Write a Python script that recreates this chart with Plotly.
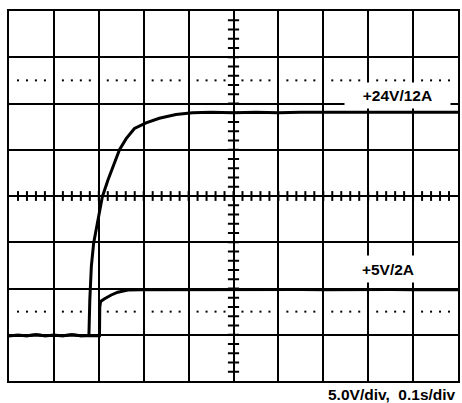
import numpy as np
import plotly.graph_objects as go

# Scope capture: 10 x 8 divisions, 0.1 s/div horizontally, 5 V/div vertically.
# Trace ground sits 3 divisions below screen centre.
time_24v = [0.000, 0.020, 0.040, 0.060, 0.080, 0.100, 0.120, 0.140, 0.160, 0.178,
            0.1800, 0.1812, 0.1834, 0.1885, 0.1973, 0.2078, 0.2202, 0.2313, 0.2461,
            0.2610, 0.2794, 0.3053, 0.3348, 0.3718, 0.4086, 0.450, 0.500, 0.550,
            0.600, 0.650, 0.700, 0.750, 0.800, 0.850, 0.900, 0.950, 1.000]
volts_24v = [-0.10, -0.05, -0.10, 0.00, -0.10, -0.05, -0.10, 0.00, -0.10, -0.05,
             3.8, 4.8, 7.4, 9.9, 12.3, 14.9, 16.7, 18.2, 20.0,
             21.2, 22.3, 22.9, 23.4, 23.8, 24.0, 24.05, 24.0, 24.05,
             24.0, 24.05, 24.05, 24.0, 24.05, 24.05, 24.0, 24.05, 24.05]

time_5v = [0.000, 0.020, 0.040, 0.060, 0.080, 0.100, 0.120, 0.140, 0.160, 0.180,
           0.2015, 0.2022, 0.2040, 0.2129, 0.2277, 0.2424, 0.2646, 0.2942, 0.350,
           0.400, 0.450, 0.500, 0.550, 0.600, 0.650, 0.700, 0.750, 0.800, 0.850,
           0.900, 0.950, 1.000]
volts_5v = [-0.10, -0.05, -0.10, 0.00, -0.10, -0.05, -0.10, 0.00, -0.10, -0.10,
            -0.10, 3.0, 3.6, 3.9, 4.3, 4.6, 4.84, 4.87, 4.88,
            4.86, 4.88, 4.86, 4.88, 4.86, 4.88, 4.86, 4.88, 4.86, 4.88,
            4.86, 4.88, 4.86]

label_24v = "+24V/12A"
label_5v = "+5V/2A"
scale_text = "5.0V/div,  0.1s/div"

T_DIV = 0.1
V_DIV = 5.0
X_RANGE = [0.0, 1.0]
Y_RANGE = [-5.0, 35.0]
X_MID = 0.5
Y_MID = 15.0

fig = go.Figure()

# Dotted reference rows at +/-2.5 div, one dot every 0.2 div
sub_t = np.arange(1, 50) * T_DIV / 5
sub_t = sub_t[np.arange(1, 50) % 5 != 0]
for level in (Y_MID - 2.5 * V_DIV, Y_MID + 2.5 * V_DIV):
    fig.add_trace(go.Scatter(
        x=sub_t, y=np.full(sub_t.size, level), mode="markers",
        marker=dict(symbol="square", size=2, color="black", line=dict(width=0)),
        hoverinfo="skip", showlegend=False))

# Minor tick marks along the centre cross-hair
cross_t = np.arange(1, 50) * T_DIV / 5
fig.add_trace(go.Scatter(
    x=cross_t, y=np.full(cross_t.size, Y_MID), mode="markers",
    marker=dict(symbol="line-ns", size=7, line=dict(width=2, color="black")),
    hoverinfo="skip", showlegend=False))
cross_v = Y_RANGE[0] + np.arange(1, 40) * V_DIV / 5
fig.add_trace(go.Scatter(
    x=np.full(cross_v.size, X_MID), y=cross_v, mode="markers",
    marker=dict(symbol="line-ew", size=8, line=dict(width=2, color="black")),
    hoverinfo="skip", showlegend=False))

# Measured channels
fig.add_trace(go.Scatter(x=time_5v, y=volts_5v, mode="lines",
                         line=dict(color="black", width=3), showlegend=False))
fig.add_trace(go.Scatter(x=time_24v, y=volts_24v, mode="lines",
                         line=dict(color="black", width=3), showlegend=False))

label_font = dict(family="Liberation Sans, Arial, sans-serif", size=15.5,
                  color="black", weight="bold")
fig.add_annotation(x=0.866, y=25.86, xref="x", yref="y", text=label_24v,
                   showarrow=False, font=label_font, bgcolor="white",
                   width=105, height=25, borderpad=0, align="center",
                   valign="middle")
fig.add_annotation(x=0.845, y=7.11, xref="x", yref="y", text=label_5v,
                   showarrow=False, font=label_font, bgcolor="white",
                   width=90, height=26, borderpad=0, align="center",
                   valign="middle")
fig.add_annotation(x=0.997, y=-0.037, xref="paper", yref="paper",
                   xanchor="right", yanchor="middle", text=scale_text,
                   showarrow=False, font=label_font, borderpad=0)

axis_common = dict(showgrid=True, gridcolor="black", gridwidth=2,
                   showline=True, linecolor="black", linewidth=2, mirror=True,
                   zeroline=False, showticklabels=False, ticks="",
                   fixedrange=True)
fig.update_xaxes(range=X_RANGE, dtick=T_DIV, tick0=0, **axis_common)
fig.update_yaxes(range=Y_RANGE, dtick=V_DIV, tick0=Y_RANGE[0], **axis_common)

fig.update_layout(width=462, height=403,
                  margin=dict(l=9, r=2, t=11, b=22),
                  paper_bgcolor="white", plot_bgcolor="white")

fig.write_html("out.html")
